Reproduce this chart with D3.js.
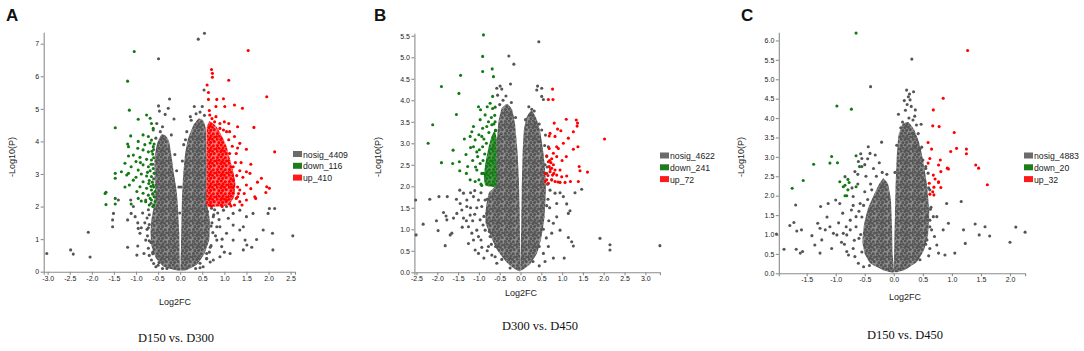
<!DOCTYPE html>
<html>
<head>
<meta charset="utf-8">
<script src="https://cdn.jsdelivr.net/npm/d3@7"></script>
<style>
  body { margin: 0; background: #fff; }
</style>
</head>
<body>
<div id="chart"></div>
<script>
// ---------- panel A : D150 vs. D300 ----------
const aXTicks = [-3.0, -2.5, -2.0, -1.5, -1.0, -0.5, 0.0, 0.5, 1.0, 1.5, 2.0, 2.5];
const aYTicks = [0, 1, 2, 3, 4, 5, 6, 7];
const aLegend = [`nosig_4409`, `down_116`, `up_410`];
// dense cloud outlines (log2FC, -log10 p)
const aCoreNosig = [
  [[0,0.03],[-0.2,0.08],[-0.39,0.17],[-0.55,0.42],[-0.65,0.8],[-0.67,1.2],[-0.65,1.6],[-0.6,2.0],[-0.57,2.5],[-0.58,3.0],[-0.58,3.5],[-0.52,3.95],[-0.42,4.22],[-0.33,4.18],[-0.25,4.0],[-0.19,3.5],[-0.14,3.0],[-0.08,2.5],[-0.05,2.0],[-0.02,1.2],[-0.01,0.4]],
  [[0.01,0.05],[0.02,0.8],[0.03,1.6],[0.04,2.2],[0.07,3.0],[0.11,3.6],[0.18,4.1],[0.3,4.5],[0.42,4.7],[0.52,4.65],[0.58,4.4],[0.6,3.5],[0.6,2.5],[0.62,2.0],[0.67,1.6],[0.66,1.0],[0.55,0.55],[0.38,0.22],[0.18,0.07]]
];
const aCoreDown = [];
const aCoreUp = [
  [[0.6,2.02],[0.6,2.8],[0.6,3.6],[0.6,4.4],[0.66,4.62],[0.75,4.55],[0.85,4.4],[0.95,4.15],[1.05,3.85],[1.12,3.5],[1.2,3.1],[1.25,2.7],[1.22,2.3],[1.1,2.05],[0.85,2.0]]
];
const aNosig = [
  [0.55,7.32],[0.41,7.14],[-0.49,6.54],[0.54,5.58],[-0.24,5.30],[-0.49,5.09],[-0.47,4.93],[-0.34,4.83],[-0.27,5.02],[-0.14,4.69],
  [0.32,5.07],[0.23,4.76],[0.50,5.07],[-0.53,4.55],[-0.61,4.35],[0.45,4.9],[0.15,4.3],[-0.4,4.45],[0.12,4.05],[-0.2,4.2],
  [-0.45,4.3],[-0.55,4.1],[-0.6,3.75],[-0.62,3.3],[-0.6,2.85],[-0.62,2.4],[-0.66,2.1],[-0.7,1.75],[-0.72,1.35],[-0.7,0.95],
  [-0.62,0.55],[-0.48,0.28],[-0.3,0.1],[-0.12,3.6],[-0.08,3.1],[-0.03,2.6],[0.05,3.4],[0.08,3.9],[0.25,4.65],[0.36,4.85],
  [0.55,4.8],[0.62,1.85],[0.7,1.4],[0.68,0.75],[0.6,0.4],[0.45,0.12],[0.02,2.6],[-0.01,1.8],
  [-1.06,2.0],[-1.11,1.79],[-1.19,1.59],[-1.02,1.69],[-0.96,1.5],[-0.95,1.33],[-1.4,2.2],[-1.51,1.79],[-1.53,1.59],[-1.53,1.38],
  [-2.08,1.21],[-2.48,0.67],[-2.42,0.54],[-2.04,0.45],[-3.02,0.56],[-1.19,0.75],[-0.96,0.79],[-0.98,0.51],[-0.78,0.97],[-0.74,1.1],
  [-0.72,0.72],[-0.65,0.36],[-0.82,0.56],[-0.91,1.18],[-1.12,2.2],[-0.85,1.8],[-0.8,1.5],[-0.88,1.35],[-0.75,1.65],[-0.7,0.5],
  [-0.6,0.25],[-0.55,0.15],[-0.78,2.2],[-0.72,1.9],[-0.7,1.45],[-0.75,1.3],[-0.66,0.9],[-0.62,0.6],[-0.5,0.2],[-0.4,0.1],
  [0.75,1.69],[0.90,1.38],[1.05,1.18],[1.20,0.97],[1.13,0.56],[0.83,0.97],[0.94,0.77],[1.35,1.28],[1.50,1.69],[1.65,1.79],
  [1.47,0.97],[1.51,0.82],[1.43,0.67],[1.62,0.75],[1.73,0.99],[1.88,1.28],[1.99,1.79],[2.02,1.94],[2.14,1.94],[2.09,1.18],
  [2.10,0.67],[2.55,1.10],[1.20,1.79],[1.35,1.89],[1.05,2.0],[0.60,0.56],[0.45,0.26],[0.75,0.36],[0.52,0.15],[0.90,0.46],
  [1.20,1.43],[1.09,1.64],[0.98,1.89],[0.83,1.38],[1.43,1.38],[0.7,0.8],[0.8,1.1],[0.78,1.9],[0.88,1.6],[0.68,0.3],
  [0.95,1.0],[1.0,0.6],[0.72,1.5],[0.74,1.2],[0.66,0.6],[0.6,0.4],[0.35,0.1],[0.76,1.75],[0.71,1.95],[0.85,1.8]
];
const aDown = [
  [-1.04,6.76],[-1.19,5.85],[-1.15,4.96],[-1.47,4.42],[-0.95,4.68],[-0.76,4.81],[-0.68,4.71],[-0.65,4.55],[-0.61,4.40],[-1.12,4.17],
  [-1.19,3.92],[-1.17,3.84],[-0.95,4.00],[-0.84,4.20],[-0.72,4.15],[-0.65,4.04],[-0.61,3.84],[-0.59,3.92],[-0.96,3.79],[-0.84,3.74],
  [-0.72,3.68],[-0.62,3.61],[-1.06,3.58],[-1.17,3.55],[-0.91,3.51],[-0.76,3.45],[-0.65,3.43],[-1.25,3.33],[-1.00,3.38],[-1.11,3.22],
  [-0.84,3.28],[-0.72,3.22],[-0.61,3.17],[-1.33,3.07],[-1.47,3.02],[-1.47,2.87],[-1.21,2.97],[-0.95,3.12],[-0.88,3.00],[-0.76,2.94],
  [-0.65,2.92],[-0.59,3.02],[-1.06,2.81],[-0.84,2.76],[-0.71,2.71],[-0.61,2.66],[-1.15,2.66],[-0.91,2.61],[-0.76,2.56],[-0.65,2.51],
  [-0.57,2.46],[-1.68,2.44],[-1.70,2.40],[-1.47,2.25],[-0.98,2.46],[-0.84,2.41],[-0.72,2.35],[-0.59,2.30],[-0.95,2.25],[-0.65,2.20],
  [-0.57,2.15],[-0.88,2.17],[-1.11,2.08],[-1.47,2.08],[-1.68,2.06],[-0.78,2.15],[-0.68,2.25],[-1.17,3.02],[-0.63,2.75],[-0.6,2.6],
  [-0.66,3.3],[-0.6,3.5],[-0.68,3.1],[-0.62,2.38],[-0.7,2.05],[-0.6,2.05],[-0.8,3.9],[-1.0,2.9],[-1.25,2.6],[-0.9,3.35],
  [-0.64,3.7],[-0.68,3.95],[-0.7,2.8],[-0.66,2.62],[-0.74,3.05],[-0.62,2.0]
];
const aUp = [
  [1.54,6.79],[0.71,6.21],[0.73,6.09],[0.73,5.97],[0.61,5.73],[1.10,5.88],[1.96,5.37],[0.64,5.50],[0.64,5.29],[0.83,5.29],
  [0.98,5.31],[1.23,5.12],[1.41,5.02],[1.01,5.07],[0.81,5.07],[1.67,4.43],[1.30,4.45],[1.10,4.55],[1.50,3.76],[2.14,3.68],
  [1.35,3.94],[1.27,3.63],[1.50,3.07],[1.58,3.02],[1.84,2.87],[1.96,2.61],[2.02,2.56],[1.94,2.43],[1.69,2.30],[1.50,2.20],
  [1.35,2.15],[1.23,2.05],[1.12,2.08],[1.71,2.25],[1.35,2.51],[1.50,2.66],[1.20,2.81],[1.20,3.22],[1.12,3.63],[1.23,4.15],
  [1.12,4.30],[0.90,4.40],[0.81,4.76],[0.67,4.81],[0.78,4.60],[1.20,2.41],[1.05,2.20],[0.66,4.95],[1.38,3.35],[1.42,2.9],
  [1.3,3.8],[1.0,4.6],[1.45,2.4],[1.6,2.55],[1.4,2.05],[1.3,2.3],[1.15,2.6],[1.6,3.3],[1.75,2.75],[1.05,4.3],
  [1.28,2.95],[1.3,2.6],[1.25,3.35],[1.18,3.85],[1.1,4.05],[0.98,4.35],[0.9,4.55],[0.72,4.7],[1.27,2.25],[1.15,2.02],
  [0.95,2.0],[0.7,2.02],[1.35,3.1],[1.32,2.4]
];

// ---------- panel B : D300 vs. D450 ----------
const bXTicks = [-2.5, -2.0, -1.5, -1.0, -0.5, 0.0, 0.5, 1.0, 1.5, 2.0, 2.5, 3.0];
const bYTicks = [0.0, 0.5, 1.0, 1.5, 2.0, 2.5, 3.0, 3.5, 4.0, 4.5, 5.0, 5.5];
const bLegend = [`nosig_4622`, `down_241`, `up_72`];
const bCoreNosig = [
  [[0,0.03],[-0.2,0.12],[-0.35,0.25],[-0.55,0.5],[-0.7,0.8],[-0.84,1.15],[-0.83,1.5],[-0.76,1.85],[-0.62,2.0],[-0.58,2.5],[-0.57,3.0],[-0.53,3.5],[-0.45,3.82],[-0.32,3.92],[-0.2,3.78],[-0.13,3.45],[-0.07,2.8],[-0.04,2.2],[-0.02,1.5],[-0.01,0.6]],
  [[0.01,0.05],[0.01,0.6],[0.02,1.2],[0.03,1.9],[0.05,2.7],[0.08,3.3],[0.15,3.62],[0.27,3.76],[0.38,3.58],[0.47,3.3],[0.55,2.8],[0.6,2.3],[0.61,1.9],[0.58,1.3],[0.5,0.8],[0.4,0.45],[0.22,0.18]]
];
const bCoreDown = [
  [[-0.57,2.0],[-0.57,2.6],[-0.57,3.1],[-0.62,3.3],[-0.7,3.15],[-0.78,2.85],[-0.85,2.5],[-0.88,2.2],[-0.84,2.02]]
];
const bCoreUp = [];
const bNosig = [
  [0.44,5.36],[-0.28,5.03],[-0.16,4.84],[-0.24,4.38],[-0.49,4.33],[-0.45,4.26],[-0.57,4.28],[-0.55,4.12],[0.41,4.33],[0.39,4.24],
  [0.51,4.28],[0.51,4.09],[0.55,4.02],[0.27,3.79],[0.24,3.66],[0.35,3.47],[0.51,3.31],[0.60,3.19],[0.47,3.04],[0.67,2.92],
  [0.63,2.69],[0.59,2.50],[0.63,2.30],[0.75,2.15],[0.71,1.91],[0.95,1.85],[1.03,1.76],[1.11,1.59],[1.19,1.43],[1.47,1.93],
  [1.31,1.85],[1.15,1.37],[0.87,1.29],[0.79,1.14],[0.95,0.98],[1.15,0.81],[1.23,0.71],[1.27,0.61],[1.05,0.33],[0.79,0.33],
  [1.91,0.79],[2.15,0.64],[2.15,0.52],[3.35,0.62],[0.75,0.91],[0.67,0.60],[0.55,0.44],[0.59,0.25],[0.87,1.60],[0.83,1.84],
  [0.7,1.5],[0.68,1.2],[0.62,0.8],[0.66,1.7],[0.45,0.15],[-0.35,4.1],[-0.42,4.0],[-0.5,3.9],[-0.22,3.95],[-0.12,3.6],
  [-0.6,3.3],[-0.6,2.8],[0.12,3.55],[0.2,3.85],[0.33,3.75],[0.45,3.45],[0.58,2.95],[0.64,2.45],[0.65,2.05],[0.63,1.55],
  [0.55,1.0],[0.45,0.6],[0.3,0.25],[-0.88,1.3],[-0.8,1.7],[-0.75,0.95],[-0.6,0.6],[-0.45,0.3],[-0.25,0.1],
  [-2.52,1.68],[-2.18,1.70],[-1.96,1.76],[-1.76,1.76],[-1.54,1.70],[-1.46,1.91],[-2.51,0.87],[-2.34,1.12],[-2.02,1.20],[-1.98,0.97],
  [-1.85,1.39],[-1.79,1.31],[-1.77,1.22],[-1.69,0.87],[-1.65,0.91],[-1.81,0.62],[-1.61,1.26],[-1.53,1.37],[-1.41,1.45],[-1.37,1.26],
  [-1.29,1.53],[-1.21,1.33],[-1.25,1.06],[-1.17,0.91],[-1.13,0.75],[-1.09,0.52],[-1.01,0.44],[-0.93,0.58],[-0.88,0.33],[-0.77,0.60],
  [-0.69,0.40],[-0.61,0.36],[-0.57,0.21],[-1.05,0.98],[-0.97,1.22],[-0.93,1.53],[-1.01,1.68],[-1.13,1.76],[-1.29,1.68],[-1.37,1.84],
  [-0.85,1.68],[-0.81,1.37],[-0.85,0.98],[-0.73,0.83],[-1.01,0.83],[-1.25,0.67],[-1.2,1.85],[-1.1,1.9],[-1.05,1.5],[-0.95,1.85],
  [-1.15,1.2],[-1.3,1.2],[-1.45,1.6],[-1.4,1.05],[-0.9,1.1],[-0.95,0.75],[-0.8,0.5],[-0.7,0.65],[-1.1,1.35],[-1.2,1.5]
];
const bDown = [
  [-0.89,5.52],[-0.91,5.02],[-0.91,4.67],[-0.68,4.73],[-0.65,4.55],[-1.44,4.58],[-1.90,4.32],[-1.48,4.16],[-1.54,3.67],[-2.11,3.43],
  [-2.22,3.00],[-1.90,2.55],[-1.62,2.84],[-1.63,2.53],[-1.47,2.57],[-1.46,2.36],[-1.31,2.74],[-1.27,2.46],[-1.21,2.15],[-1.13,3.39],
  [-1.17,3.27],[-1.21,3.16],[-1.09,3.08],[-1.13,2.92],[-1.01,3.85],[-0.96,3.78],[-0.85,3.66],[-0.80,3.85],[-0.73,3.93],[-0.67,3.81],
  [-0.61,3.84],[-0.67,4.09],[-0.97,3.55],[-0.77,3.50],[-0.91,3.35],[-0.81,3.39],[-0.69,3.43],[-0.61,3.50],[-1.05,2.80],[-1.03,2.69],
  [-0.93,3.16],[-0.91,2.92],[-0.97,2.53],[-1.05,2.38],[-1.00,2.15],[-1.09,2.11],[-0.93,2.30],[-1.15,2.6],[-1.2,2.9],[-1.08,2.45],
  [-0.95,2.05],[-0.88,3.1],[-0.7,3.6],[-0.62,3.65],[-0.99,2.85],[-1.3,2.3],[-1.35,3.1],[-0.86,2.75],[-1.0,3.2],[-0.6,3.3],
  [-0.82,3.0],[-0.76,3.25],[-0.9,2.6],[-0.93,2.02],[-0.89,2.3],[-0.64,3.45]
];
const bUp = [
  [0.77,4.26],[0.67,4.02],[0.78,4.02],[1.10,3.56],[1.34,3.54],[1.37,3.47],[0.81,3.47],[0.89,3.33],[0.97,3.29],[0.71,3.23],
  [0.69,3.17],[0.83,3.16],[1.27,3.27],[1.15,3.12],[2.02,3.10],[1.03,3.00],[0.87,2.92],[0.91,2.88],[1.38,2.92],[1.27,2.86],
  [0.69,2.88],[0.79,2.77],[0.63,2.71],[0.67,2.57],[1.10,2.69],[0.69,2.46],[0.75,2.42],[0.79,2.50],[0.83,2.38],[0.71,2.34],
  [0.87,2.26],[0.59,2.30],[0.59,2.11],[0.67,2.07],[0.75,2.15],[0.83,2.11],[0.95,2.09],[1.07,2.09],[1.11,2.24],[1.20,2.11],
  [1.39,2.11],[1.41,2.46],[1.43,2.36],[1.61,2.33],[0.99,2.22],[0.75,2.64],[0.87,2.69],[0.63,2.15],[0.77,2.26],[0.95,2.38],
  [0.72,2.4],[0.8,2.3],[0.73,2.55],[0.66,2.25],[1.36,3.4],[0.7,2.6],[0.9,2.1],[1.0,2.6]
];

// ---------- panel C : D150 vs. D450 ----------
const cXTicks = [-1.5, -1.0, -0.5, 0.0, 0.5, 1.0, 1.5, 2.0];
const cYTicks = [0.0, 0.5, 1.0, 1.5, 2.0, 2.5, 3.0, 3.5, 4.0, 4.5, 5.0, 5.5, 6.0];
const cLegend = [`nosig_4883`, `down_20`, `up_32`];
const cCoreNosig = [
  [[0,0.03],[-0.18,0.08],[-0.4,0.25],[-0.5,0.5],[-0.54,0.8],[-0.52,1.2],[-0.45,1.65],[-0.35,2.0],[-0.26,2.28],[-0.18,2.45],[-0.1,2.3],[-0.05,1.9],[-0.03,1.2],[-0.02,0.5]],
  [[0.01,0.04],[0.01,0.8],[0.02,1.5],[0.03,2.2],[0.05,3.0],[0.08,3.55],[0.15,3.85],[0.25,3.9],[0.35,3.7],[0.43,3.4],[0.5,2.95],[0.57,2.3],[0.61,1.6],[0.59,1.0],[0.52,0.6],[0.4,0.3],[0.2,0.1]]
];
const cCoreDown = [];
const cCoreUp = [];
const cNosig = [
  [0.31,5.52],[-0.40,4.81],[0.08,4.10],[0.22,4.72],[0.34,4.68],[0.28,4.47],[0.37,4.21],[0.39,3.82],[0.47,3.84],[0.25,4.55],
  [0.3,4.3],[0.2,4.2],[0.26,4.0],[0.33,3.95],[0.15,3.9],[0.18,4.45],[0.27,4.62],[0.23,4.35],[0.36,4.05],[0.12,3.75],
  [0.42,3.6],[0.48,3.25],[0.55,2.75],[0.6,2.2],[0.63,1.65],[0.62,1.2],[0.55,0.75],[0.45,0.35],[0.05,3.3],[0.02,2.6],
  [-0.21,3.38],[-0.32,3.05],[-0.44,3.26],[-0.41,3.09],[-0.57,3.08],[-0.55,2.96],[-0.61,2.88],[-0.55,2.75],[-0.67,2.62],[-0.84,2.49],
  [-0.93,1.80],[-1.00,1.89],[-1.13,1.80],[-1.26,1.72],[-1.69,1.76],[-1.79,1.23],[-1.72,1.31],[-1.59,1.12],[-1.67,1.09],[-1.41,0.97],
  [-1.31,1.29],[-1.27,1.16],[-1.18,1.12],[-1.10,1.20],[-1.04,1.03],[-0.98,0.99],[-0.87,1.03],[-0.81,0.99],[-0.75,1.12],[-2.02,1.01],
  [-1.89,0.62],[-1.68,0.62],[-1.61,0.52],[-1.57,0.56],[-1.36,0.73],[-1.27,0.52],[-1.24,0.86],[-1.07,0.64],[-0.81,0.56],[-0.78,0.47],
  [-0.67,0.43],[-0.70,0.64],[-0.61,0.26],[-0.52,0.17],[-0.73,1.63],[-0.65,1.46],[-0.75,1.37],[-0.58,1.80],[-0.70,1.98],[-0.48,2.5],
  [-0.35,2.7],[-0.25,2.85],[-0.4,2.3],[-0.5,2.1],[-0.62,2.3],[-0.6,1.6],[-0.65,1.2],[-0.6,0.9],[-0.88,1.55],[-0.95,1.3],
  [-0.9,0.8],[-1.15,1.45],[-0.5,2.8],[-0.3,2.5],[-0.45,1.9],[-0.55,1.45],[-0.57,1.0],[-0.55,0.55],[-0.42,0.2],[-0.2,2.6],
  [-0.12,2.55],[-0.38,2.15],[-0.52,1.75],[-0.7,1.75],[-0.82,1.2],[-0.68,0.85],[-0.85,0.75],[-0.62,2.55],[-0.72,2.2],[-0.45,2.95],
  [0.57,1.46],[0.62,1.37],[0.68,1.46],[0.74,1.46],[0.65,1.12],[0.54,1.03],[0.85,1.12],[0.94,1.29],[0.91,1.80],[1.16,1.85],
  [1.20,1.12],[1.23,0.77],[1.40,1.27],[1.47,0.99],[1.57,1.20],[1.65,0.96],[2.00,0.80],[2.10,1.19],[2.26,1.06],[0.88,0.47],
  [1.05,0.52],[0.74,0.73],[0.77,0.52],[0.62,0.64],[0.57,0.86],[0.51,1.89],[0.62,2.15],[0.51,2.41],[0.59,2.58],[0.50,2.92],
  [0.37,3.26],[0.32,3.61],[0.45,3.2],[0.55,2.7],[0.64,1.7],[0.7,0.95],[0.6,0.45]
];
const cDown = [
  [-0.65,6.19],[-0.98,4.31],[-0.73,4.23],[-1.07,3.01],[-1.10,2.84],[-0.97,2.85],[-1.38,2.81],[-0.65,3.03],[-0.59,2.75],[-0.65,2.23],
  [-1.56,2.39],[-1.75,2.19],[-0.93,2.36],[-0.79,2.42],[-0.77,2.34],[-0.87,2.23],[-0.84,2.27],[-0.79,2.15],[-0.84,2.00],[-0.81,2.00]
];
const cUp = [
  [1.27,5.74],[0.85,4.51],[0.68,4.21],[0.67,3.80],[0.78,3.78],[1.04,3.63],[0.59,3.37],[0.65,3.20],[1.08,3.22],[0.98,3.14],
  [1.25,3.20],[1.25,3.08],[0.62,2.96],[0.80,2.92],[0.77,2.79],[0.59,2.84],[0.92,2.71],[0.94,2.69],[1.41,2.79],[1.46,2.71],
  [0.68,2.53],[0.81,2.62],[0.71,2.43],[0.77,2.36],[0.61,2.32],[0.77,2.34],[0.69,2.22],[0.81,2.21],[1.61,2.28],[0.67,2.10],
  [0.62,2.04],[0.69,2.02]
];

// ---------- constants ----------
const width = 1084;
const height = 351;
const nosigColor = `#555555`;
const downColor = `#137a13`;
const upColor = `#ff0000`;
const axisColor = `#8c8c8c`;
const tickFont = `7px Arial, Helvetica, sans-serif`;
const labelFont = `9px Arial, Helvetica, sans-serif`;
const legendFont = `8.7px Arial, Helvetica, sans-serif`;
const titleFont = `12.5px "Liberation Serif", "Times New Roman", serif`;
const dotRadius = 1.55;

const panels = [
  {letter: `A`, letterX: 6, title: `D150 vs. D300`, titleX: 176, titleY: 342, xLabelX: 175, xLabelY: 305,
   yLabelX: 15, legendX: 293, legendY: 151,
   xDomain: [-3.09, 2.6], xRange: [43.7, 295], yDomain: [0, 7.35], yRange: [271.7, 32.3],
   xTicks: aXTicks, yTicks: aYTicks, yFormat: d => d.toFixed(0), legend: aLegend,
   coreNosig: aCoreNosig, coreDown: aCoreDown, coreUp: aCoreUp, nosig: aNosig, down: aDown, up: aUp},
  {letter: `B`, letterX: 374, title: `D300 vs. D450`, titleX: 540, titleY: 330, xLabelX: 521, xLabelY: 296,
   yLabelX: 381, legendX: 660, legendY: 152.5,
   xDomain: [-2.55, 3.35], xRange: [414.4, 659.9], yDomain: [0, 5.56], yRange: [272.3, 33.2],
   xTicks: bXTicks, yTicks: bYTicks, yFormat: d => d.toFixed(1), legend: bLegend,
   coreNosig: bCoreNosig, coreDown: bCoreDown, coreUp: bCoreUp, nosig: bNosig, down: bDown, up: bUp},
  {letter: `C`, letterX: 741, title: `D150 vs. D450`, titleX: 905, titleY: 339, xLabelX: 905, xLabelY: 300,
   yLabelX: 744, legendX: 1024, legendY: 152.5,
   xDomain: [-1.98, 2.26], xRange: [778.8, 1025.1], yDomain: [0, 6.21], yRange: [273.3, 32.3],
   xTicks: cXTicks, yTicks: cYTicks, yFormat: d => d.toFixed(1), legend: cLegend,
   coreNosig: cCoreNosig, coreDown: cCoreDown, coreUp: cCoreUp, nosig: cNosig, down: cDown, up: cUp}
];

const svg = d3.select(`#chart`)
  .append(`svg`)
    .attr(`width`, width)
    .attr(`height`, height);

// speckle patterns used to paint the dense clouds
const defs = svg.append(`defs`);
const speckle = [[1.5,1.6],[5.2,0.9],[9.3,1.8],[3.2,4.2],[7.1,3.9],[10.6,5.0],[1.1,7.3],[4.8,7.6],[8.4,7.2],[2.9,10.6],
                 [6.6,10.4],[10.2,9.6],[0.2,4.5],[6.0,6.0]];
[[`patNosig`, nosigColor, `#8e8e8e`], [`patDown`, downColor, `#4f984f`], [`patUp`, upColor, `#ff7a7a`]].forEach(([id, color, base]) => {
  const p = defs.append(`pattern`)
    .attr(`id`, id)
    .attr(`patternUnits`, `userSpaceOnUse`)
    .attr(`width`, 12)
    .attr(`height`, 12);
  p.append(`rect`).attr(`width`, 12).attr(`height`, 12).attr(`fill`, base);
  p.selectAll(`circle`).data(speckle).enter().append(`circle`)
    .attr(`cx`, d => d[0]).attr(`cy`, d => d[1]).attr(`r`, 1.55).attr(`fill`, color);
});

const drawPanel = (p) => {
  const xScale = d3.scaleLinear().domain(p.xDomain).range(p.xRange);
  const yScale = d3.scaleLinear().domain(p.yDomain).range(p.yRange);
  const g = svg.append(`g`);

  const xAxis = g.append(`g`)
    .attr(`transform`, `translate(0,${p.yRange[0]})`)
    .call(d3.axisBottom(xScale).tickValues(p.xTicks).tickFormat(d => d.toFixed(1))
      .tickSize(3).tickSizeOuter(3).tickPadding(1));
  const yAxis = g.append(`g`)
    .attr(`transform`, `translate(${p.xRange[0]},0)`)
    .call(d3.axisLeft(yScale).tickValues(p.yTicks).tickFormat(p.yFormat)
      .tickSize(3).tickSizeOuter(0).tickPadding(1.5));
  [xAxis, yAxis].forEach(a => {
    a.selectAll(`path, line`).attr(`stroke`, axisColor).attr(`stroke-width`, 1.1);
    a.selectAll(`text`).style(`font`, tickFont).attr(`fill`, `#222`);
  });

  const line = d3.line()
    .x(d => xScale(d[0]))
    .y(d => yScale(d[1]))
    .curve(d3.curveCardinalClosed.tension(0.6));

  const drawCore = (shapes, pat) => {
    g.selectAll(null).data(shapes).enter().append(`path`)
      .attr(`d`, line)
      .attr(`fill`, `url(#${pat})`);
  };
  const drawDots = (pts, color) => {
    g.selectAll(null).data(pts).enter().append(`circle`)
      .attr(`cx`, d => xScale(d[0]))
      .attr(`cy`, d => yScale(d[1]))
      .attr(`r`, dotRadius)
      .attr(`fill`, color);
  };

  drawCore(p.coreNosig, `patNosig`);
  drawDots(p.nosig, nosigColor);
  drawCore(p.coreDown, `patDown`);
  drawDots(p.down, downColor);
  drawCore(p.coreUp, `patUp`);
  drawDots(p.up, upColor);

  // legend
  const colors = [`#6b6b6b`, `#1d7d1d`, `#ff1a1a`];
  p.legend.forEach((label, i) => {
    g.append(`rect`)
      .attr(`x`, p.legendX)
      .attr(`y`, p.legendY + i * 11.8)
      .attr(`width`, 9)
      .attr(`height`, 6)
      .attr(`fill`, colors[i]);
    g.append(`text`)
      .attr(`x`, p.legendX + 10)
      .attr(`y`, p.legendY + i * 11.8 + 6.5)
      .style(`font`, legendFont)
      .attr(`fill`, `#222`)
      .text(label);
  });

  g.append(`text`)
    .attr(`x`, p.letterX)
    .attr(`y`, 20.5)
    .style(`font`, `bold 17px Arial, Helvetica, sans-serif`)
    .attr(`fill`, `#111`)
    .text(p.letter);

  g.append(`text`)
    .attr(`transform`, `translate(${p.yLabelX},157) rotate(-90)`)
    .attr(`text-anchor`, `middle`)
    .style(`font`, labelFont)
    .attr(`fill`, `#222`)
    .text(`-Log10(P)`);

  g.append(`text`)
    .attr(`x`, p.xLabelX)
    .attr(`y`, p.xLabelY)
    .attr(`text-anchor`, `middle`)
    .style(`font`, labelFont)
    .attr(`fill`, `#222`)
    .text(`Log2FC`);

  g.append(`text`)
    .attr(`x`, p.titleX)
    .attr(`y`, p.titleY)
    .attr(`text-anchor`, `middle`)
    .style(`font`, titleFont)
    .attr(`fill`, `#111`)
    .text(p.title);
};

panels.forEach(drawPanel);
</script>
</body>
</html>
